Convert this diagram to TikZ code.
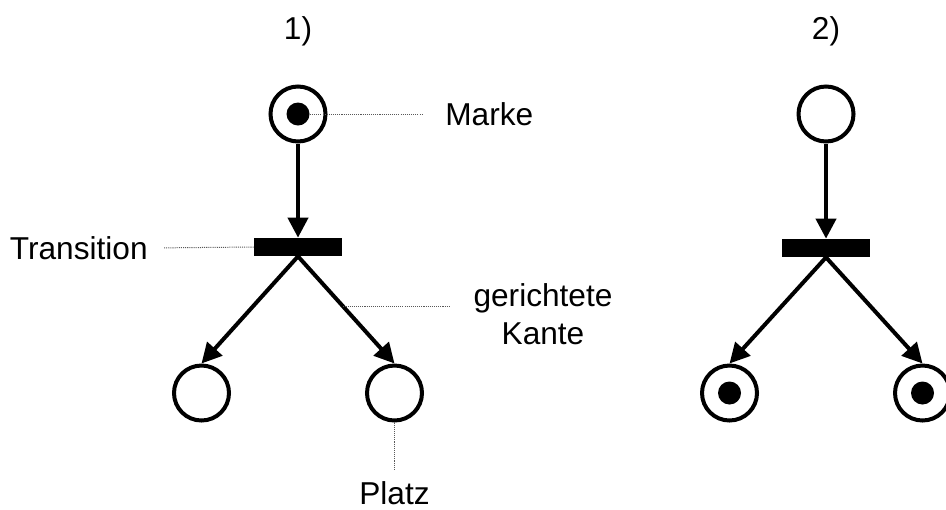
\documentclass[tikz,border=0pt]{standalone}
\usepackage{fontspec}
\setmainfont{Liberation Sans}
\usetikzlibrary{arrows.meta}

\begin{document}
\begin{tikzpicture}[
  font=\fontsize{18}{21.5}\selectfont,
  place/.style={circle, draw=black, line width=0.08cm, minimum size=1.1cm, inner sep=0pt},
  token/.style={circle, fill=black, minimum size=0.46cm, inner sep=0pt},
  transition/.style={rectangle, fill=black, minimum width=1.76cm, minimum height=0.36cm, inner sep=0pt},
  arc/.style={line width=0.08cm, -{Triangle[length=0.4cm, width=0.4cm]}},
  note/.style={draw=gray!70!black, line width=0.02cm, dash pattern=on 0.6pt off 0.6pt},
  caption/.style={inner sep=0pt}
]
\pgfmathsetmacro{\netx}{5.96}
\pgfmathsetmacro{\shift}{10.56}
\pgfmathsetmacro{\spread}{1.93}
\clip (0,0) rectangle (18.92,-10.18);

% net before firing
\node [caption] (n1) at (\netx,-0.62) {1)};
\node [place] (p1) at (\netx,-2.28) {};
\node [token] (m1) at (p1) {};
\node [transition] (t1) at (\netx,-4.94) {};
\node [place] (b1) at (\netx-\spread,-7.86) {};
\node [place] (b2) at (\netx+\spread,-7.86) {};
\draw [arc] (p1.south) -- (t1.north);
\draw [arc] (t1.south) -- (b1.north);
\draw [arc] (t1.south) -- coordinate [pos=.47] (kp) (b2.north);

% what is what
\node [caption, anchor=west] (marke) at (8.9,-2.28) {Marke};
\node [caption, anchor=east] (trans) at (2.96,-4.96) {Transition};
\node [caption, align=center] (gk) at (10.86,-6.28) {gerichtete\\Kante};
\node [caption, anchor=north] (platz) at (\netx+\spread,-9.63) {Platz};
\draw [note, shorten >=0.44cm] (m1) -- (marke);
\draw [note, shorten >=0.3cm] (t1.west) -- (trans.east);
\draw [note, shorten >=0.46cm] (kp) -- (kp -| gk.west);
\draw [note, shorten >=0.24cm] (b2) -- (platz);

% net after firing
\node [caption] (n2) at (\netx+\shift,-0.62) {2)};
\node [place] (p2) at (\netx+\shift,-2.28) {};
\node [transition] (t2) at (\netx+\shift,-4.96) {};
\node [place] (b3) at (\netx+\shift-\spread,-7.86) {};
\node [place] (b4) at (\netx+\shift+\spread,-7.86) {};
\node [token] (m3) at (b3) {};
\node [token] (m4) at (b4) {};
\draw [arc] (p2.south) -- (t2.north);
\draw [arc] (t2.south) -- (b3.north);
\draw [arc] (t2.south) -- (b4.north);
\end{tikzpicture}
\end{document}
